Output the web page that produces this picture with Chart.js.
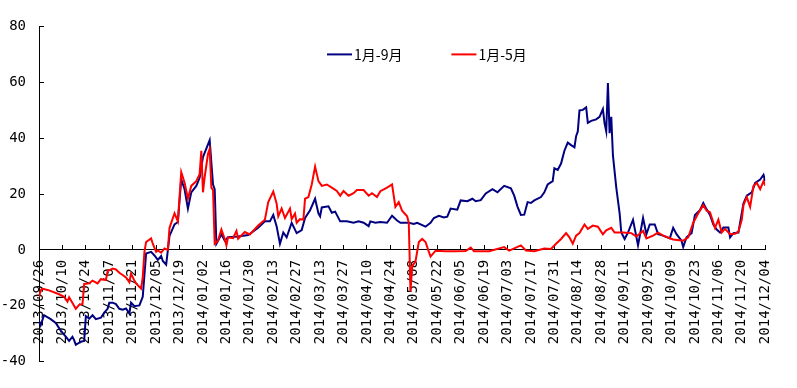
<!DOCTYPE html>
<html>
<head>
<meta charset="utf-8">
<script src="https://cdn.jsdelivr.net/npm/chart.js@4.4.1/dist/chart.umd.min.js"></script>
<style>
  html, body { margin: 0; padding: 0; background: #fff; }
</style>
</head>
<body>
<canvas id="lineChart" width="797" height="388"></canvas>
<script>
// day offsets from 2013/09/26
const START = Date.UTC(2013, 8, 26);
const DAY_STEP = 14;
const LAST_DAY = 434;
const yTicks = { min: -40, max: 80, step: 20 };

const labelBlue = "1月-9月";
const labelRed = "1月-5月";

const blueDays = [0, 1, 3, 7, 10, 13, 16, 18, 20, 21, 22, 25, 27, 28, 30, 32, 34, 37, 39, 41,
  42, 44, 46, 48, 50, 52, 54, 55, 57, 60, 62, 64, 67, 69, 71, 73, 74, 76, 78, 81,
  83, 85, 87, 89, 91, 94, 96, 98, 102, 104, 105, 106, 107, 109, 111, 113, 119, 125, 131, 135,
  138, 140, 142, 144, 146, 148, 151, 154, 157, 159, 162, 165, 167, 168, 169, 173, 175, 177, 180, 184,
  188, 191, 194, 197, 198, 201, 204, 208, 211, 214, 216, 221, 224, 226, 231, 234, 236, 239, 242, 244,
  246, 250, 252, 256, 259, 261, 264, 267, 271, 274, 278, 282, 284, 286, 288, 290, 292, 294, 296, 300,
  302, 304, 307, 308, 310, 312, 314, 316, 318, 320, 321, 322, 323, 325, 327, 328, 330, 333, 335, 337,
  338, 339, 340, 341, 342, 343, 345, 347, 348, 350, 352, 355, 358, 361, 363, 365, 368, 370, 373, 377,
  379, 381, 384, 385, 387, 390, 392, 395, 397, 399, 401, 403, 405, 407, 409, 412, 413, 415, 418, 419,
  421, 423, 426, 428, 431, 433, 434];
const blueValues = [-25.4, -27, -23.4, -24.8, -26.2, -28.9, -31.1, -32.6, -31.1, -32.3, -34, -32.9, -32.6, -23.7, -24.6, -23.4, -24.8, -24.3, -22.5, -21.1,
  -18.9, -18.9, -19.4, -21.1, -21.4, -21, -22.8, -18.9, -20.2, -19.9, -16.8, -1.3, -0.7, -2, -3.6, -2.2, -4, -5.3, 5, 9.1,
  10, 25.2, 21.7, 14.8, 20.6, 22.9, 25.8, 33.2, 39.3, 23.4, 21.7, 2.2, 3.3, 5.6, 3.3, 4.5, 4.8, 5.3, 7.9, 10.2,
  10.2, 12.5, 8.5, 2.2, 6.2, 4.5, 9.7, 6, 7.1, 11.4, 14.2, 18.3, 13.1, 12, 15.2, 15.6, 13.3, 13.7, 10.2, 10.2,
  9.7, 10.2, 9.7, 8.5, 10.2, 9.7, 10, 9.7, 12.2, 10.5, 9.7, 9.7, 9.3, 9.7, 8.3, 9.7, 11.4, 12.2, 11.6, 11.9,
  14.8, 14.4, 17.7, 17.4, 18.3, 17.4, 17.8, 20.2, 21.7, 20.6, 22.9, 22, 19.4, 15.4, 12.5, 12.6, 17.1, 16.8, 17.7, 18.9,
  20.6, 23.4, 24.6, 29.2, 28.6, 30.9, 35.5, 38.4, 37.5, 36.7, 40.7, 42.4, 49.9, 50.1, 51, 45.5, 46.2, 46.7, 47.6, 50.4,
  45.3, 42.4, 59.7, 41.8, 47.6, 33.8, 22.3, 13.1, 6.2, 3.9, 6.2, 10.8, 1.6, 11.4, 5.6, 9.1, 9.1, 5.6, 5.1, 4.1,
  7.9, 5.6, 3.3, 1, 4.5, 6, 12.5, 14.2, 16.8, 14.5, 12.5, 9.1, 7.3, 6.2, 8, 8, 4.5, 6, 6.2, 9.7,
  16.6, 19.4, 20.6, 24, 25.2, 26.9, 24.6];

const redDays = [0, 1, 2, 6, 12, 15, 17, 18, 20, 22, 24, 26, 27, 30, 32, 35, 37, 40, 41, 44,
  46, 48, 50, 52, 54, 55, 57, 58, 61, 62, 63, 64, 67, 68, 70, 71, 73, 75, 77, 78,
  81, 83, 85, 87, 89, 91, 94, 96, 97, 98, 99, 101, 102, 103, 104, 105, 107, 109, 111, 112,
  113, 116, 118, 119, 123, 126, 131, 135, 137, 140, 142, 143, 145, 147, 150, 151, 153, 154, 156, 158,
  159, 161, 163, 165, 167, 169, 172, 175, 178, 180, 182, 185, 188, 190, 194, 197, 199, 202, 204, 208,
  211, 213, 215, 217, 220, 221, 222, 223, 225, 227, 229, 231, 233, 234, 237, 243, 249, 255, 258, 260,
  269, 278, 281, 288, 291, 296, 302, 306, 309, 312, 315, 317, 319, 321, 323, 326, 328, 331, 334, 337,
  339, 342, 344, 349, 354, 357, 361, 363, 367, 370, 373, 379, 385, 388, 391, 394, 397, 399, 401, 404,
  406, 408, 410, 413, 416, 418, 420, 421, 423, 425, 427, 429, 431, 433, 434];
const redValues = [-17, -14.5, -13.9, -14.5, -15.9, -16.8, -18.5, -17, -19, -21.1, -19.7, -19.4, -12.2, -12, -11, -12, -10.5, -10.8, -7.6, -6.7,
  -7, -8.2, -9, -9.9, -11.6, -8.5, -11, -12, -13.9, -9.9, -0.7, 2.8, 4.1, 2.2, -0.7, -0.2, -1, 0.5, 0, 7.9,
  13.1, 10.2, 27.8, 24, 18.3, 22.9, 24.6, 27.1, 35.5, 20.6, 26, 34.4, 36.1, 22.3, 21.4, 2.2, 3.3, 7.3, 3.9, 1.6,
  4.5, 4.2, 6.8, 4, 6.4, 5.5, 8.7, 10.8, 17.1, 20.9, 16.6, 12, 14.8, 11.4, 14.8, 11, 13, 9.7, 11, 10.8,
  18.3, 18.9, 23.4, 29.8, 24.6, 22.9, 23.4, 22.3, 21.1, 19.4, 21.1, 19.4, 20.3, 21.4, 21.4, 19.4, 20.3, 18.9, 21, 22.3,
  23.4, 15.4, 17.1, 14, 12, 9.7, -15, -5.9, -4.1, 2.8, 3.9, 2.8, -0.7, -2.4, -0.3, -0.5, -0.5, -0.4, 0.8, -0.5,
  -0.5, 1, -0.3, 1.6, -0.2, -0.5, 0.5, 0.3, 2.2, 3.9, 6, 4.5, 2.2, 5.1, 6, 9.1, 7.5, 8.7, 8.3, 5.6,
  7, 7.9, 6.2, 6.2, 6, 4.8, 6.8, 4.1, 5.1, 6.2, 5.1, 3.7, 3.3, 4.5, 9.7, 13.1, 16, 14, 13.5, 7.9,
  10.8, 6.2, 7.5, 5.6, 5.8, 6.5, 10.8, 16, 18.9, 15.4, 22.9, 24, 21.7, 24.6, 23];

function dayLabel(d) {
  const t = new Date(START + d * 86400000);
  const mm = String(t.getUTCMonth() + 1).padStart(2, "0");
  const dd = String(t.getUTCDate()).padStart(2, "0");
  return t.getUTCFullYear() + "/" + mm + "/" + dd;
}

const toPoints = (days, vals) => days.map((d, i) => ({ x: d, y: vals[i] }));

const tickFont = { family: "'DejaVu Sans Mono', monospace", size: 14 };

// one-row legend drawn inside the plot area, in dataset order
const insideLegend = {
  id: "insideLegend",
  afterDraw(chart) {
    const ctx = chart.ctx;
    const area = chart.chartArea;
    let x = area.left + 288;
    const y = area.top + 28;
    ctx.save();
    ctx.font = "14px 'Noto Sans CJK SC', sans-serif";
    ctx.textBaseline = "middle";
    ctx.textAlign = "left";
    chart.data.datasets.forEach((ds) => {
      ctx.strokeStyle = ds.borderColor;
      ctx.lineWidth = 2;
      ctx.beginPath();
      ctx.moveTo(x, y);
      ctx.lineTo(x + 25, y);
      ctx.stroke();
      ctx.fillStyle = "#000";
      ctx.fillText(ds.label, x + 27, y);
      x += 27 + ctx.measureText(ds.label).width + 49;
    });
    ctx.restore();
  }
};

const CHART = document.getElementById("lineChart");
let lineChart = new Chart(CHART, {
  type: "line",
  data: {
    datasets: [
      {
        label: labelBlue,
        data: toPoints(blueDays, blueValues),
        borderColor: "#000080",
        backgroundColor: "#000080",
        borderWidth: 2,
        pointRadius: 0,
        tension: 0,
        order: 1
      },
      {
        label: labelRed,
        data: toPoints(redDays, redValues),
        borderColor: "#ff0000",
        backgroundColor: "#ff0000",
        borderWidth: 2,
        pointRadius: 0,
        tension: 0,
        order: 0
      }
    ]
  },
  options: {
    responsive: false,
    animation: false,
    layout: { padding: { left: 0, top: 16, right: 23, bottom: 24 } },
    plugins: {
      tooltip: { enabled: false },
      legend: { display: false }
    },
    scales: {
      x: {
        type: "linear",
        position: { y: 0 },
        min: 0,
        max: LAST_DAY,
        grid: { drawOnChartArea: false, tickLength: -5, color: "#000" },
        border: { color: "#000", width: 1 },
        ticks: {
          stepSize: DAY_STEP,
          maxTicksLimit: 40,
          autoSkip: false,
          minRotation: 90,
          maxRotation: 90,
          padding: 15,
          color: "#000",
          font: tickFont,
          callback: (v) => dayLabel(v)
        }
      },
      y: {
        min: yTicks.min,
        max: yTicks.max,
        afterFit: (s) => { s.width = 39; },
        grid: { drawOnChartArea: false, tickLength: -5, color: "#000" },
        border: { color: "#000", width: 1 },
        ticks: {
          stepSize: yTicks.step,
          padding: 18,
          color: "#000",
          font: tickFont
        }
      }
    }
  },
  plugins: [insideLegend]
});
</script>
</body>
</html>
